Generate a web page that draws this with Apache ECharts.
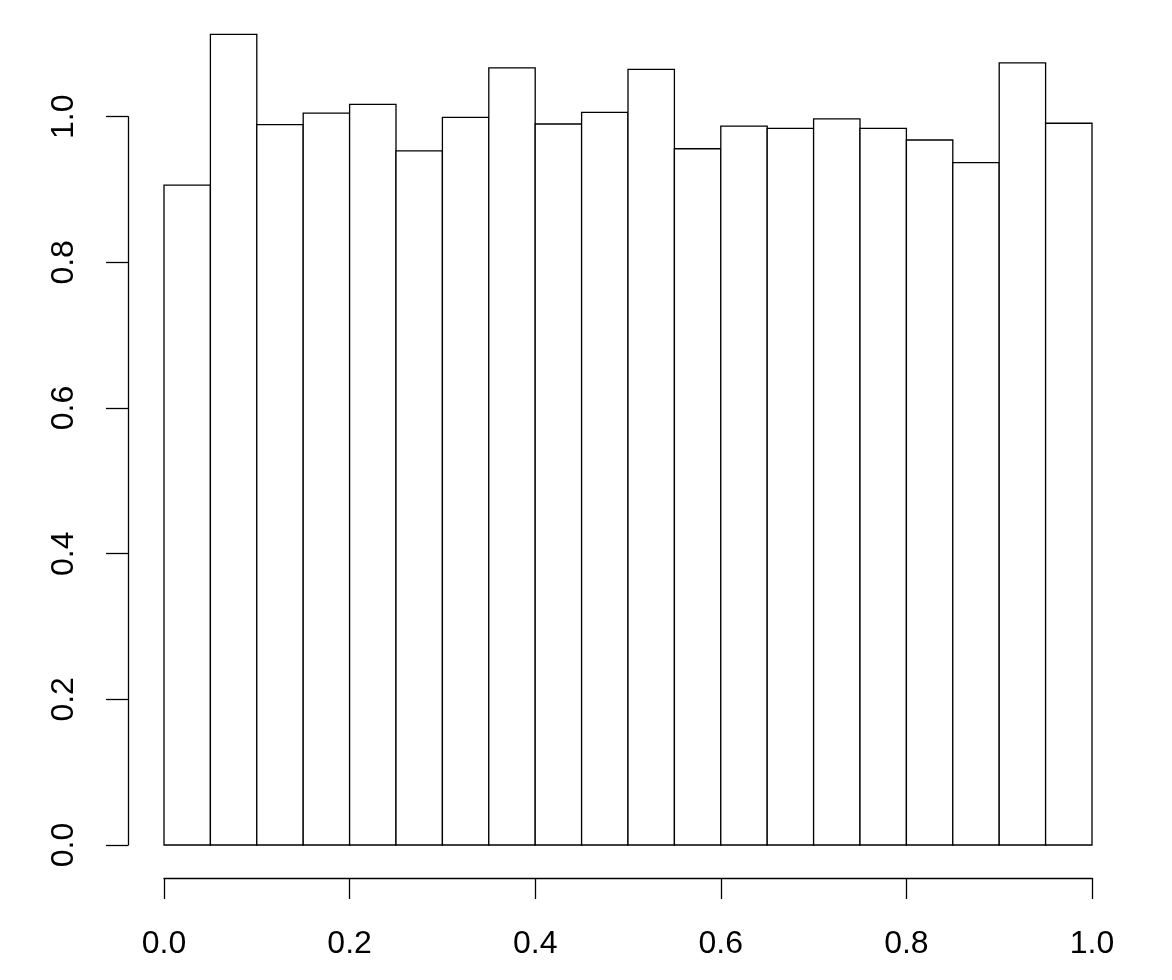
<!DOCTYPE html>
<html>
<head>
<meta charset="utf-8">
<script src="https://cdn.jsdelivr.net/npm/echarts@6/dist/echarts.min.js"></script>
<style>
html, body { margin: 0; padding: 0; background: #fff; }
#histChart { width: 1172px; height: 980px; }
</style>
</head>
<body>
<div id="histChart"></div>
<script>
// bin edges (left) and density per bin, width 0.05
var binStarts = [0.00, 0.05, 0.10, 0.15, 0.20, 0.25, 0.30, 0.35, 0.40, 0.45,
	0.50, 0.55, 0.60, 0.65, 0.70, 0.75, 0.80, 0.85, 0.90, 0.95];
var binWidth = 0.05;
var density = [0.906, 1.113, 0.989, 1.005, 1.017, 0.953, 0.999, 1.067, 0.990, 1.006,
	1.065, 0.956, 0.987, 0.984, 0.997, 0.984, 0.968, 0.937, 1.074, 0.991];
var xTicks = [0.0, 0.2, 0.4, 0.6, 0.8, 1.0];
var yTicks = [0.0, 0.2, 0.4, 0.6, 0.8, 1.0];

var histData = binStarts.map(function (s, i) {
	return [s, s + binWidth, density[i]];
});

var fontName = '"Liberation Sans", Arial, sans-serif';

var histChart = echarts.init(document.getElementById('histChart'));
option = {
	backgroundColor: '#ffffff',
	animation: false,
	grid: {
		left: 164,
		right: 80,
		top: 116.7,
		bottom: 135
	},
	xAxis: {
		type: 'value',
		min: xTicks[0],
		max: xTicks[xTicks.length - 1],
		interval: 0.2,
		offset: 33,
		splitLine: { show: false },
		axisLine: { show: true, onZero: false, lineStyle: { color: '#000', width: 1.3 } },
		axisTick: { show: true, length: 21, lineStyle: { color: '#000', width: 1.3 } },
		axisLabel: {
			margin: 50,
			color: '#000',
			fontSize: 32,
			fontFamily: fontName,
			formatter: function (v) { return v.toFixed(1); }
		}
	},
	yAxis: {
		type: 'value',
		min: yTicks[0],
		max: yTicks[yTicks.length - 1],
		interval: 0.2,
		offset: 36,
		splitLine: { show: false },
		axisLine: { show: true, onZero: false, lineStyle: { color: '#000', width: 1.3 } },
		axisTick: { show: true, length: 22, lineStyle: { color: '#000', width: 1.3 } },
		axisLabel: {
			rotate: 90,
			margin: 48,
			color: '#000',
			fontSize: 32,
			fontFamily: fontName,
			formatter: function (v) { return v.toFixed(1); }
		}
	},
	series: [{
		type: 'custom',
		clip: false,
		data: histData,
		renderItem: function (params, api) {
			var p0 = api.coord([api.value(0), 0]);
			var p1 = api.coord([api.value(1), api.value(2)]);
			return {
				type: 'rect',
				shape: {
					x: p0[0],
					y: p1[1],
					width: p1[0] - p0[0],
					height: p0[1] - p1[1]
				},
				style: {
					fill: '#ffffff',
					stroke: '#000000',
					lineWidth: 1.3
				}
			};
		}
	}]
};
histChart.setOption(option);
window.addEventListener("resize", function() {
	histChart.resize();
});
</script>
</body>
</html>
